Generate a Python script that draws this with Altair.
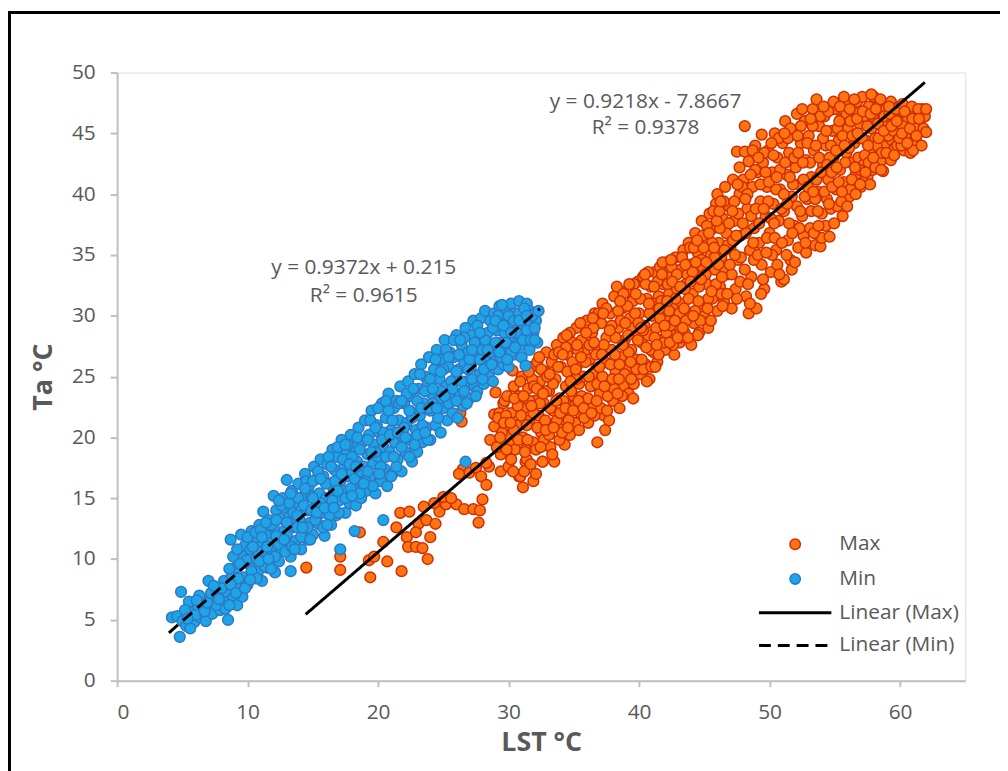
import altair as alt
import pandas as pd

# ---------------- data ----------------
SERIES = ["Max", "Min"]
FIT_NAMES = ["Linear (Max)", "Linear (Min)"]

MAX_POINTS = [
    (14.5, 9.3), (17.1, 9.1), (17.1, 10.2), (18.6, 12.2), (19.4, 8.5), (19.3, 9.9), (19.7, 10.2),
    (20.4, 11.4), (20.7, 9.8), (21.8, 9.0), (21.4, 12.6), (21.7, 13.8), (22.4, 13.9), (22.2, 11.8),
    (22.3, 11.0), (22.9, 11.0), (23.4, 10.9), (23.8, 10.0), (23.1, 12.9), (23.7, 13.2), (24.0, 11.8),
    (24.4, 12.9), (24.7, 13.9), (25.2, 14.5), (25.0, 15.1), (26.0, 14.5), (26.6, 14.1), (27.3, 14.1),
    (27.8, 14.0), (27.7, 13.0), (26.5, 17.4), (27.0, 17.1), (27.5, 17.5), (27.9, 16.8), (28.5, 17.6),
    (28.3, 16.1), (28.0, 14.9), (28.9, 20.9), (28.9, 21.9), (29.0, 23.7), (26.4, 21.3), (26.3, 22.0),
    (22.9, 12.2), (23.5, 14.3), (24.3, 14.6), (25.6, 15.0), (26.2, 17.0), (28.3, 17.9), (29.4, 17.2),
    (30.1, 18.7), (31.3, 18.0), (32.6, 18.0), (30.8, 16.8), (31.9, 16.4), (31.1, 15.9), (30.3, 19.4),
    (31.9, 19.5), (29.6, 22.8), (29.3, 22.0), (30.3, 25.5),
    (28.6, 19.8), (29.2, 21.6), (29.4, 18.6), (29.7, 23.0), (29.9, 20.2), (30.0, 17.6), (30.2, 22.0),
    (30.4, 24.2), (30.5, 19.0), (30.6, 21.0), (30.8, 23.4), (30.9, 16.8), (31.0, 25.0), (31.1, 20.0),
    (31.2, 22.4), (31.4, 18.2), (31.5, 24.0), (31.6, 21.4), (31.8, 25.8), (31.9, 19.6), (32.0, 23.0),
    (32.1, 17.0), (32.2, 26.2), (32.3, 21.8), (32.4, 24.6), (32.5, 20.4), (32.6, 18.0), (32.7, 22.8),
    (32.8, 25.4), (32.9, 27.0), (33.0, 21.0), (33.1, 23.8), (33.2, 19.2), (33.3, 26.2), (33.4, 22.2),
    (33.5, 18.0), (33.6, 24.8), (33.7, 27.6), (33.8, 20.8), (33.9, 23.2), (34.0, 25.8), (34.1, 21.8),
    (34.2, 28.2), (34.3, 19.4), (34.4, 24.2), (34.5, 26.8), (34.6, 22.6), (34.7, 20.2), (34.8, 25.2),
    (34.9, 27.8), (35.0, 23.4), (35.1, 21.2), (35.2, 29.0), (35.3, 26.0), (35.4, 24.4), (35.5, 22.0),
    (35.6, 28.0), (35.7, 25.0), (35.8, 27.0), (35.9, 23.2), (36.0, 29.6), (36.1, 21.2), (36.2, 26.4),
    (36.3, 24.2), (36.4, 28.6), (36.5, 22.6), (36.6, 30.2), (36.7, 25.6), (36.8, 19.6), (36.9, 27.4),
    (37.0, 23.6), (37.1, 29.4), (37.2, 31.0), (37.3, 21.8), (37.4, 26.2), (37.5, 28.2), (37.6, 24.6),
    (37.7, 21.4), (37.8, 30.2), (37.9, 27.2), (38.0, 23.0), (38.1, 31.6), (38.2, 25.4), (38.3, 32.4),
    (38.4, 29.0), (38.5, 22.4), (38.6, 26.6), (38.7, 30.6), (38.8, 24.2), (38.9, 28.0), (39.0, 32.0),
    (39.1, 25.6), (39.2, 23.6), (39.3, 29.8), (39.4, 27.2), (39.5, 31.2), (39.6, 24.4), (39.7, 28.6),
    (39.8, 26.4), (39.9, 32.8), (40.0, 30.2), (40.1, 25.2), (40.2, 27.8), (40.3, 33.2), (40.4, 29.2),
    (40.5, 26.0), (40.6, 31.4), (40.7, 28.4), (40.8, 24.8), (40.9, 32.4), (41.0, 30.0), (41.1, 27.0),
    (41.2, 33.6), (41.3, 29.0), (41.4, 26.2), (41.5, 31.6), (41.6, 34.0), (41.7, 28.0), (41.8, 32.6),
    (41.9, 30.6), (42.0, 27.2), (42.1, 34.4), (42.2, 29.6), (42.3, 31.8), (42.4, 33.2), (42.5, 28.4),
    (42.6, 30.8), (42.7, 26.8), (42.8, 34.8), (42.9, 32.2), (43.0, 29.2), (43.1, 27.8), (43.2, 33.8),
    (43.3, 31.0), (43.4, 35.4), (43.5, 28.6), (43.6, 32.6), (43.7, 30.2), (43.8, 36.0), (43.9, 34.2),
    (44.0, 27.6), (44.1, 31.8), (44.2, 29.4), (44.3, 36.8), (44.4, 33.2), (44.5, 35.2), (44.6, 28.6),
    (44.7, 31.0), (44.8, 37.8), (44.9, 34.0), (45.0, 30.0), (45.1, 36.4), (45.2, 32.6), (45.3, 29.0),
    (45.4, 38.4), (45.5, 35.0), (45.6, 31.4), (45.7, 37.2), (45.8, 33.8), (45.9, 39.2), (46.0, 30.4),
    (46.0, 40.0), (46.1, 36.0), (46.2, 32.4), (46.3, 34.8), (46.4, 38.0), (46.5, 31.2), (46.6, 40.6),
    (46.7, 36.8), (46.8, 33.4), (46.9, 39.0), (47.0, 35.6), (47.1, 30.6), (47.2, 41.2), (47.3, 37.8),
    (47.4, 32.2), (47.5, 43.5), (47.6, 34.6), (47.7, 40.0), (47.8, 36.6), (48.0, 41.2), (48.1, 45.6),
    (48.1, 43.5), (48.2, 31.6), (48.3, 38.8), (48.4, 30.2), (48.4, 42.7), (48.5, 35.4), (48.6, 33.2),
    (48.7, 40.6), (48.8, 37.2), (48.9, 44.0), (49.0, 30.6), (49.1, 41.8), (49.2, 36.0), (49.3, 39.4),
    (49.4, 44.9), (49.4, 34.2), (49.5, 42.6), (49.6, 32.2), (49.7, 38.2), (49.8, 40.6), (49.9, 43.6),
    (50.0, 36.8), (50.1, 33.6), (50.2, 41.8), (50.3, 39.2), (50.4, 45.0), (50.5, 35.4), (50.6, 43.0),
    (50.7, 37.8), (50.8, 40.4), (50.9, 32.8), (51.0, 44.2), (51.1, 33.0), (51.1, 38.6), (51.2, 46.0),
    (51.3, 41.6), (51.4, 36.2), (51.5, 43.4), (51.6, 34.6), (51.7, 39.8), (51.8, 45.2), (51.9, 37.4),
    (52.0, 42.2), (52.1, 46.6), (52.2, 35.6), (52.3, 40.8), (52.4, 44.2), (52.5, 38.2), (52.6, 36.6),
    (52.7, 46.0), (52.8, 42.8), (52.9, 39.6), (53.0, 44.8), (53.1, 37.2), (53.2, 41.4), (53.3, 47.0),
    (53.4, 43.6), (53.5, 35.8), (53.6, 47.8), (53.7, 40.2), (53.8, 45.6), (53.9, 35.7), (54.0, 38.4),
    (54.0, 36.4), (54.1, 42.4), (54.2, 46.4), (54.3, 44.0), (54.4, 39.6), (54.5, 41.2), (54.6, 36.5),
    (54.7, 38.8), (54.8, 45.2), (54.9, 43.0), (55.0, 47.0), (55.1, 40.4), (55.2, 39.0), (55.3, 44.4),
    (55.4, 42.0), (55.5, 46.2), (55.6, 38.2), (55.7, 41.0), (55.8, 47.4), (55.9, 43.4), (56.0, 45.4),
    (56.1, 39.8), (56.2, 40.4), (56.3, 42.6), (56.4, 46.8), (56.5, 44.2), (56.6, 41.6), (56.7, 47.6),
    (56.8, 43.0), (56.9, 45.8), (57.0, 40.6), (57.1, 48.0), (57.2, 42.4), (57.3, 46.4), (57.4, 44.4),
    (57.5, 41.4), (57.6, 47.2), (57.7, 43.6), (57.8, 45.4), (57.9, 42.0), (58.0, 48.0), (58.1, 44.6),
    (58.2, 46.6), (58.3, 43.0), (58.4, 47.4), (58.5, 42.7), (58.6, 45.6), (58.7, 41.9), (58.8, 44.0),
    (58.9, 47.0), (59.0, 46.0), (59.1, 43.4), (59.2, 45.0), (59.3, 47.6), (59.4, 44.4), (59.5, 46.6),
    (59.6, 43.8), (59.8, 45.6), (59.9, 47.2), (60.0, 44.6), (60.1, 46.2), (60.3, 43.6), (60.4, 45.2),
    (60.5, 47.0), (60.7, 44.2), (60.8, 46.0), (61.0, 45.0), (61.1, 46.6), (61.3, 44.2), (61.5, 45.1),
    (61.6, 46.2), (61.7, 47.0),
]

# second pass over the same cloud: dots lying in between the ones above
MAX_POINTS_FILL = [
    (29.1, 19.2), (29.5, 20.4), (29.8, 21.8), (29.9, 23.4), (30.2, 18.2), (30.4, 20.6), (30.7, 22.6),
    (30.9, 24.6), (31.2, 17.2), (31.3, 19.0), (31.4, 21.0), (31.6, 23.0), (31.8, 24.8), (31.7, 17.8),
    (31.9, 22.0), (32.1, 19.0), (32.2, 20.8), (32.4, 22.8), (32.5, 25.6), (32.7, 19.8), (32.9, 23.8),
    (32.8, 21.4), (33.1, 20.2), (33.2, 22.4), (33.4, 24.4), (33.5, 26.8), (33.7, 21.4), (33.8, 25.8),
    (33.9, 19.8), (34.1, 20.4), (34.2, 23.0), (34.4, 27.4), (34.5, 25.4), (34.6, 21.4), (34.8, 23.8),
    (34.9, 26.2), (34.7, 28.6), (35.1, 22.6), (35.2, 24.8), (35.3, 27.2), (35.5, 29.4), (35.6, 23.4),
    (35.8, 21.6), (35.9, 26.2), (35.4, 20.6), (36.1, 23.2), (36.2, 27.6), (36.4, 25.2), (36.5, 29.0),
    (36.6, 21.8), (36.8, 24.4), (36.9, 30.2), (36.7, 26.8), (37.1, 22.4), (37.2, 25.0), (37.3, 27.6),
    (37.5, 30.6), (37.6, 23.4), (37.8, 26.0), (37.9, 29.2), (37.4, 20.6), (38.1, 24.0), (38.2, 28.2),
    (38.4, 30.4), (38.5, 26.0), (38.7, 23.4), (38.8, 31.8), (38.9, 25.2), (38.6, 29.6), (39.1, 30.8),
    (39.2, 27.0), (39.4, 24.8), (39.5, 29.0), (39.6, 32.6), (39.8, 25.6), (39.9, 28.0), (39.7, 30.2),
    (40.1, 31.4), (40.2, 26.4), (40.3, 28.8), (40.5, 32.6), (40.6, 24.6), (40.8, 30.2), (40.9, 27.2),
    (40.7, 33.6), (41.1, 31.0), (41.2, 28.2), (41.4, 32.8), (41.5, 26.8), (41.6, 29.8), (41.8, 34.4),
    (41.9, 27.8), (41.7, 31.2), (42.1, 28.6), (42.2, 32.6), (42.3, 30.4), (42.5, 34.0), (42.6, 27.6),
    (42.8, 31.4), (42.9, 33.4), (42.4, 29.2), (43.1, 30.2), (43.2, 28.2), (43.3, 34.8), (43.5, 32.2),
    (43.6, 29.6), (43.8, 31.4), (43.9, 35.6), (43.7, 33.4), (44.1, 33.6), (44.2, 35.6), (44.3, 30.4),
    (44.5, 28.4), (44.6, 32.4), (44.8, 34.6), (44.9, 36.6), (44.7, 29.6), (45.1, 33.4), (45.2, 37.4),
    (45.3, 31.4), (45.5, 29.6), (45.6, 36.0), (45.8, 34.8), (45.9, 32.6), (45.7, 38.6), (46.1, 34.2),
    (46.2, 37.2), (46.3, 31.8), (46.5, 39.4), (46.6, 33.6), (46.8, 35.8), (46.9, 37.6), (46.4, 30.8),
    (47.1, 33.4), (47.2, 36.2), (47.3, 39.4), (47.5, 31.4), (47.6, 38.4), (47.8, 34.8), (47.9, 40.6),
    (47.7, 42.2), (48.1, 33.8), (48.2, 36.8), (48.3, 40.0), (48.5, 31.0), (48.6, 38.2), (48.8, 34.6),
    (48.9, 42.0), (48.7, 43.6), (49.1, 35.0), (49.2, 37.6), (49.3, 40.8), (49.5, 33.0), (49.6, 43.4),
    (49.8, 36.4), (49.9, 39.4), (49.7, 41.8), (50.1, 38.0), (50.2, 35.0), (50.3, 43.2), (50.5, 40.4),
    (50.6, 34.2), (50.8, 42.0), (50.9, 38.8), (50.7, 44.6), (50.4, 36.4), (51.1, 40.0), (51.2, 42.6),
    (51.3, 35.0), (51.5, 37.6), (51.6, 45.4), (51.8, 40.8), (51.9, 43.0), (51.7, 33.8), (51.4, 44.6),
    (52.1, 39.0), (52.2, 43.4), (52.3, 37.2), (52.4, 45.6), (52.6, 41.2), (52.8, 35.2), (52.9, 44.2),
    (52.7, 39.8), (52.5, 47.0), (53.1, 42.6), (53.2, 38.6), (53.3, 45.6), (53.4, 36.8), (53.6, 41.2),
    (53.8, 43.0), (53.9, 46.4), (53.7, 38.6), (53.5, 39.6), (54.1, 44.6), (54.2, 40.2), (54.3, 37.4),
    (54.5, 46.8), (54.6, 43.0), (54.8, 40.6), (54.9, 47.6), (54.7, 44.0), (54.4, 42.4), (55.1, 43.6),
    (55.2, 45.4), (55.3, 41.0), (55.5, 39.4), (55.6, 44.8), (55.8, 42.6), (55.9, 46.6), (55.7, 48.0),
    (55.4, 47.2), (56.1, 43.8), (56.2, 46.0), (56.3, 41.2), (56.5, 47.8), (56.6, 40.0), (56.8, 44.6),
    (56.9, 42.0), (56.7, 46.2), (57.1, 44.6), (57.2, 41.0), (57.3, 43.2), (57.5, 45.6), (57.6, 42.6),
    (57.8, 48.2), (57.9, 46.4), (57.7, 40.8), (58.1, 42.2), (58.2, 44.0), (58.3, 45.8), (58.5, 47.8),
    (58.6, 43.4), (58.8, 46.4), (58.9, 44.8), (59.1, 44.8), (59.2, 46.6), (59.3, 42.8), (59.5, 45.2),
    (59.7, 47.0), (59.8, 44.0), (59.9, 46.0), (60.1, 44.0), (60.2, 47.4), (60.4, 44.8), (60.6, 46.2),
    (60.8, 43.4), (60.9, 47.2), (60.2, 45.6), (61.2, 45.6), (61.4, 47.0), (61.8, 45.4), (61.9, 46.4),
    (61.0, 43.6), (62.0, 47.0), (62.0, 45.1),
]

# third pass: the remaining dots that close the white gaps of the cloud
MAX_POINTS_FILL2 = [
    (29.35, 20.0), (29.65, 21.2), (29.85, 19.0), (30.15, 21.2), (30.45, 23.2), (30.75, 19.8),
    (30.95, 21.8), (30.35, 17.2), (31.15, 23.4), (31.45, 19.8), (31.75, 22.6), (31.95, 24.2),
    (31.55, 25.4), (31.25, 18.8), (32.15, 24.0), (32.45, 19.2), (32.65, 23.6), (32.85, 20.6),
    (32.35, 26.6), (32.95, 25.0), (33.15, 25.2), (33.45, 20.8), (33.65, 23.0), (33.85, 27.0),
    (33.35, 18.6), (33.95, 22.0), (34.15, 26.8), (34.35, 22.4), (34.55, 20.8), (34.75, 24.6),
    (34.95, 22.2), (34.45, 28.4), (35.15, 25.6), (35.35, 23.0), (35.55, 26.6), (35.75, 22.4),
    (35.95, 28.6), (35.25, 27.6), (36.15, 25.0), (36.35, 22.0), (36.55, 27.8), (36.75, 23.0),
    (36.95, 25.8), (36.45, 29.8), (37.15, 26.8), (37.35, 24.2), (37.55, 22.2), (37.75, 28.8),
    (37.95, 24.8), (37.25, 30.2), (38.15, 26.8), (38.35, 23.6), (38.55, 31.2), (38.75, 27.6),
    (38.95, 29.4), (38.45, 24.8), (39.15, 28.4), (39.35, 26.2), (39.55, 23.2), (39.75, 31.8),
    (39.95, 29.4), (39.25, 32.6), (40.15, 29.0), (40.35, 25.6), (40.55, 27.4), (40.75, 31.0),
    (40.95, 25.8), (40.45, 33.4), (41.15, 32.4), (41.35, 27.6), (41.55, 30.6), (41.75, 33.4),
    (41.95, 29.2), (41.25, 25.8), (42.15, 31.2), (42.35, 27.8), (42.55, 32.8), (42.75, 29.6),
    (42.95, 28.2), (42.45, 34.6), (43.15, 32.4), (43.35, 29.0), (43.55, 34.2), (43.75, 28.2),
    (43.95, 32.8), (43.45, 30.6), (44.15, 30.0), (44.35, 34.4), (44.55, 31.2), (44.75, 33.0),
    (44.95, 35.6), (44.45, 36.2), (45.15, 34.4), (45.35, 36.8), (45.55, 32.0), (45.75, 35.6),
    (45.95, 37.8), (45.25, 30.6), (46.15, 38.6), (46.35, 33.2), (46.55, 35.4), (46.75, 31.8),
    (46.95, 34.2), (46.25, 39.4), (47.15, 38.6), (47.35, 35.0), (47.55, 40.8), (47.75, 32.8),
    (47.95, 37.6), (47.45, 36.6), (48.15, 39.6), (48.35, 32.6), (48.55, 41.6), (48.75, 36.0),
    (48.95, 38.8), (49.15, 43.0), (49.35, 31.8), (49.55, 38.8), (49.75, 35.2), (49.95, 41.0),
    (50.15, 44.2), (50.35, 37.6), (50.55, 41.4), (50.75, 33.4), (50.95, 36.0), (51.15, 45.0),
    (51.35, 39.2), (51.55, 41.4), (51.75, 36.8), (51.95, 34.4), (52.15, 44.8), (52.35, 38.6),
    (52.55, 42.6), (52.75, 36.0), (52.95, 40.6), (53.15, 46.2), (53.35, 40.2), (53.55, 44.0),
    (53.75, 37.4), (53.95, 41.8), (54.15, 47.2), (54.35, 45.2), (54.55, 39.2), (54.75, 41.8),
    (54.95, 37.6), (55.15, 42.2), (55.35, 46.0), (55.55, 40.2), (55.75, 44.0), (55.95, 39.0),
    (56.15, 47.0), (56.35, 44.8), (56.55, 42.2), (56.75, 45.0), (56.95, 40.8), (57.15, 46.8),
    (57.35, 41.8), (57.55, 44.0), (57.75, 46.6), (57.95, 43.0), (58.15, 47.0), (58.35, 44.6),
    (58.55, 42.0), (58.75, 45.2), (58.95, 43.4), (59.15, 47.2), (59.35, 45.6), (59.55, 43.2),
    (59.75, 46.0), (59.95, 44.6), (60.15, 45.0), (60.35, 46.8), (60.55, 44.2), (60.75, 45.4),
    (60.95, 46.2), (61.25, 44.8), (61.45, 46.2), (61.65, 44.0),
]

MIN_POINTS = [
    (4.2, 5.2), (4.6, 5.3), (4.8, 3.6), (5.0, 4.9), (5.3, 4.5), (4.9, 7.3), (5.5, 6.5), (5.7, 5.6),
    (5.9, 4.8), (6.2, 6.1), (6.4, 5.2), (6.6, 6.6), (6.8, 4.9), (7.0, 8.2), (7.1, 6.0), (7.3, 5.5),
    (7.5, 6.8), (7.7, 7.4), (7.9, 5.8), (8.1, 6.6), (8.2, 8.2), (8.5, 5.0), (8.4, 7.3), (8.7, 11.6),
    (8.8, 8.6), (8.9, 6.8), (9.2, 6.2), (9.1, 9.3), (9.4, 7.6), (9.5, 12.0), (9.6, 10.4), (9.7, 8.5),
    (9.8, 11.1), (10.0, 7.9), (10.1, 9.6), (10.2, 10.8), (10.3, 12.3), (10.4, 8.8), (10.5, 11.5),
    (10.6, 10.0), (10.8, 9.0), (10.9, 12.8), (11.0, 11.0), (11.1, 8.2), (11.2, 13.9), (11.3, 10.2),
    (11.4, 12.0), (11.5, 9.3), (11.6, 13.2), (11.7, 11.3), (11.9, 10.4), (12.0, 15.2), (12.0, 12.6),
    (12.1, 8.9), (12.2, 14.0), (12.3, 11.6), (12.4, 9.8), (12.5, 13.3), (12.6, 10.8), (12.7, 15.0),
    (12.8, 12.3), (12.9, 14.2), (13.3, 9.0), (13.0, 16.5), (13.1, 11.2), (13.2, 13.5), (13.3, 10.2),
    (13.4, 15.6), (13.5, 12.6), (13.6, 14.6), (13.7, 11.5), (13.9, 16.2), (14.0, 13.2), (14.1, 10.8),
    (14.2, 15.1), (14.3, 12.2), (14.4, 17.0), (14.5, 14.0), (14.6, 11.6), (14.7, 16.0), (14.8, 13.0),
    (14.9, 15.2), (15.0, 12.0), (15.1, 17.6), (15.2, 14.3), (15.3, 16.6), (15.4, 12.9), (15.5, 15.4),
    (15.6, 18.2), (15.7, 13.8), (15.8, 16.8), (15.9, 11.9), (16.0, 15.0), (16.1, 17.8), (16.2, 14.0),
    (16.3, 16.2), (16.4, 12.8), (16.5, 19.0), (16.6, 15.6), (16.7, 17.3), (16.8, 13.6), (16.9, 18.4),
    (17.0, 14.8), (17.1, 16.4), (17.1, 10.8), (17.2, 19.8), (17.3, 15.6), (17.4, 17.6), (17.5, 13.8),
    (17.6, 18.8), (17.7, 16.8), (17.8, 14.6), (17.9, 20.2), (18.2, 12.3), (18.0, 17.2), (18.1, 15.8),
    (18.2, 19.2), (18.3, 14.4), (18.4, 18.0), (18.5, 20.8), (18.6, 16.6), (18.7, 15.0), (18.8, 19.6),
    (18.9, 17.6), (19.0, 21.4), (19.1, 15.6), (19.2, 18.6), (19.3, 20.2), (19.4, 16.8), (19.5, 22.2),
    (19.6, 17.8), (19.7, 19.4), (19.8, 15.4), (19.9, 21.0), (20.0, 18.4), (20.1, 20.4), (20.2, 16.4),
    (20.4, 13.2), (20.3, 22.8), (20.4, 19.2), (20.5, 17.4), (20.6, 21.6), (20.7, 16.0), (20.8, 23.6),
    (20.9, 18.8), (21.0, 20.6), (21.1, 17.0), (21.2, 22.4), (21.3, 19.6), (21.4, 23.0), (21.5, 18.2),
    (21.6, 21.4), (21.7, 24.2), (21.8, 17.2), (21.9, 20.0), (22.0, 22.8), (22.1, 18.8), (22.2, 21.2),
    (22.3, 24.6), (22.4, 19.8), (22.5, 23.4), (22.6, 18.0), (22.7, 22.0), (22.8, 25.2), (22.9, 20.6),
    (23.0, 18.8), (23.1, 24.0), (23.2, 21.8), (23.3, 26.0), (23.4, 19.6), (23.5, 22.8), (23.6, 25.0),
    (23.7, 20.8), (23.8, 24.4), (23.9, 26.6), (24.0, 19.8), (24.0, 22.2), (24.1, 23.6), (24.3, 25.6),
    (24.4, 21.0), (24.5, 27.2), (24.6, 23.0), (24.7, 24.8), (24.8, 20.4), (24.9, 26.4), (25.0, 22.4),
    (25.1, 28.0), (25.2, 24.2), (25.3, 21.4), (25.4, 25.8), (25.5, 27.0), (25.6, 23.2), (25.7, 22.0),
    (25.8, 26.6), (25.9, 24.8), (26.0, 28.4), (26.1, 21.6), (26.2, 25.6), (26.3, 23.6), (26.4, 27.6),
    (26.5, 22.6), (26.6, 26.2), (26.7, 18.0), (26.7, 29.0), (26.8, 24.6), (26.9, 27.0), (27.0, 23.2),
    (27.1, 25.8), (27.2, 28.4), (27.3, 29.6), (27.4, 24.2), (27.5, 26.8), (27.6, 23.8), (27.7, 28.0),
    (27.8, 25.2), (27.9, 29.8), (28.0, 27.2), (28.1, 24.4), (28.2, 30.4), (28.3, 26.2), (28.4, 28.6),
    (28.5, 25.0), (28.6, 29.6), (28.7, 27.6), (28.8, 24.6), (28.9, 30.2), (29.0, 26.6), (29.1, 28.8),
    (29.2, 25.6), (29.3, 30.8), (29.4, 27.8), (29.5, 29.8), (29.6, 26.0), (29.7, 28.6), (29.8, 30.6),
    (29.9, 27.2), (30.0, 25.8), (30.1, 29.4), (30.2, 31.0), (30.3, 28.2), (30.4, 26.8), (30.5, 30.2),
    (30.6, 27.6), (30.7, 29.0), (30.8, 31.2), (30.9, 28.4), (31.0, 26.6), (31.1, 30.0), (31.2, 29.2),
    (31.3, 25.9), (31.4, 31.0), (31.5, 28.0), (31.6, 30.4), (31.7, 29.4), (31.9, 28.6), (32.0, 30.2),
    (32.1, 29.6), (32.2, 27.8),
]

MIN_POINTS_FILL = [
    (5.2, 5.8), (5.6, 4.3), (6.0, 5.4), (6.3, 7.0), (6.7, 5.7), (7.2, 7.2), (7.6, 6.2), (8.0, 7.6),
    (8.3, 5.9), (8.6, 9.2), (8.9, 10.2), (9.2, 10.8), (9.3, 8.4), (9.6, 6.9), (9.9, 9.9), (10.0, 11.8),
    (10.3, 9.0), (10.6, 12.2), (10.7, 8.4), (10.8, 10.6), (11.0, 12.4), (11.3, 9.4), (11.5, 11.0),
    (11.8, 12.8), (11.8, 9.2), (12.1, 10.2), (12.2, 13.2), (12.4, 11.2), (12.6, 14.4), (12.9, 10.6),
    (13.0, 12.0), (13.2, 14.6), (13.4, 11.0), (13.5, 13.8), (13.8, 12.6), (13.9, 15.0), (14.1, 11.8),
    (14.3, 14.4), (14.5, 16.4), (14.6, 12.6), (14.9, 14.0), (15.0, 16.4), (15.2, 13.2), (15.4, 17.2),
    (15.6, 14.6), (15.8, 12.6), (16.0, 16.2), (16.2, 18.4), (16.3, 13.6), (16.5, 14.8), (16.7, 16.4),
    (16.9, 19.2), (17.0, 13.8), (17.3, 18.2), (17.5, 15.0), (17.7, 19.4), (17.9, 15.8), (18.0, 18.4),
    (18.2, 16.6), (18.4, 20.0), (18.6, 15.4), (18.7, 17.2), (19.0, 16.4), (19.2, 19.8), (19.4, 21.4),
    (19.6, 16.0), (19.8, 18.8), (20.0, 22.4), (20.2, 17.6), (20.4, 20.4), (20.6, 18.4), (20.8, 22.2),
    (21.0, 16.8), (21.1, 21.4), (21.4, 17.6), (21.6, 22.8), (21.8, 19.2), (22.0, 20.8), (22.2, 23.6),
    (22.4, 18.4), (22.6, 21.6), (22.8, 19.4), (23.0, 23.0), (23.2, 25.2), (23.4, 21.0), (23.6, 23.8),
    (23.8, 19.8), (24.0, 24.8), (24.2, 22.8), (24.4, 26.4), (24.6, 21.6), (24.8, 23.8), (25.0, 25.6),
    (25.2, 27.2), (25.4, 22.8), (25.6, 24.6), (25.8, 28.0), (26.0, 23.0), (26.2, 26.8), (26.4, 24.6),
    (26.6, 28.2), (26.8, 22.8), (27.0, 26.4), (27.2, 24.8), (27.4, 27.8), (27.6, 29.2), (27.8, 26.4),
    (28.0, 24.8), (28.2, 28.0), (28.4, 25.8), (28.6, 27.0), (28.8, 29.0), (29.0, 27.8), (29.2, 30.0),
    (29.4, 26.6), (29.5, 30.9), (29.8, 27.8), (30.0, 30.0), (30.2, 27.0), (30.4, 29.6), (30.6, 28.6),
    (30.8, 30.2), (31.0, 27.6), (31.2, 30.6), (31.4, 28.8), (31.6, 27.2), (31.8, 30.0), (32.0, 29.0),
    (32.3, 30.4),
    (5.4, 5.1), (6.1, 6.6), (6.9, 6.4), (7.4, 7.8), (7.8, 6.7), (8.6, 6.2), (8.7, 7.9), (9.1, 7.2),
    (9.4, 9.6), (9.8, 7.6), (10.2, 8.3), (10.4, 11.0), (10.9, 9.8), (11.1, 11.8), (11.4, 13.0),
    (11.6, 10.0), (12.2, 11.9), (12.4, 14.8), (12.8, 11.6), (13.0, 13.0), (13.3, 15.4), (13.6, 10.8),
    (13.8, 13.6), (14.2, 12.6), (14.4, 15.8), (14.8, 11.6), (15.0, 15.0), (15.3, 13.8), (15.6, 16.6),
    (15.9, 14.2), (16.1, 12.8), (16.4, 17.6), (16.6, 14.2), (16.9, 15.6), (17.2, 17.0), (17.5, 19.4),
    (17.8, 17.8), (18.0, 15.2), (18.3, 17.6), (18.6, 19.0), (18.9, 16.2), (19.2, 17.2), (19.5, 18.8),
    (19.8, 20.8), (20.1, 17.0), (20.3, 19.8), (20.6, 23.0), (20.9, 20.2), (21.2, 18.4), (21.5, 20.4),
    (21.8, 23.0), (22.1, 20.0), (22.4, 22.2), (22.7, 24.0), (23.0, 20.2), (23.3, 22.4), (23.6, 20.4),
    (23.9, 22.4), (24.2, 24.0), (24.5, 22.4), (24.8, 25.4), (25.1, 23.4), (25.4, 26.6), (25.7, 24.0),
    (26.0, 25.4), (26.3, 28.0), (26.6, 23.8), (26.9, 25.6), (27.2, 27.2), (27.5, 23.4), (27.8, 28.6),
    (28.1, 25.6), (28.4, 27.2), (28.7, 26.0), (29.0, 29.6), (29.3, 27.0), (29.6, 29.2), (29.9, 26.4),
    (30.2, 28.6), (30.5, 27.4), (30.8, 29.6), (31.1, 28.0), (31.4, 30.0), (31.7, 28.0), (32.0, 28.0),
]

# trendlines as printed on the chart: slope, intercept, x-range of the drawn line
FIT_SLOPE = [0.9218, 0.9372]
FIT_INTERCEPT = [-7.8667, 0.215]
FIT_X_START = [14.45, 3.97]
FIT_X_END = [61.9, 32.4]

EQUATION_TEXT = ["y = 0.9218x - 7.8667", "R² = 0.9378", "y = 0.9372x + 0.215", "R² = 0.9615"]
EQUATION_X = [40.5, 40.5, 18.9, 18.9]
EQUATION_Y = [47.6, 45.4, 33.9, 31.6]

X_TICKS = [0, 10, 20, 30, 40, 50, 60]
Y_TICKS = [0, 5, 10, 15, 20, 25, 30, 35, 40, 45, 50]

# ---------------- tables ----------------
pts = pd.DataFrame(
    [{"LST": x, "Ta": y, "series": "Max"} for x, y in MAX_POINTS + MAX_POINTS_FILL + MAX_POINTS_FILL2]
    + [{"LST": x, "Ta": y, "series": "Min"} for x, y in MIN_POINTS + MIN_POINTS_FILL]
)
pts["order"] = range(len(pts))

fit_rows = []
for name, m, b, x0, x1 in zip(FIT_NAMES, FIT_SLOPE, FIT_INTERCEPT, FIT_X_START, FIT_X_END):
    fit_rows.append({"LST": x0, "Ta": m * x0 + b, "fit": name})
    fit_rows.append({"LST": x1, "Ta": m * x1 + b, "fit": name})
fits = pd.DataFrame(fit_rows)

ann = pd.DataFrame({"text": EQUATION_TEXT, "LST": EQUATION_X, "Ta": EQUATION_Y})

FONT = "Open Sans"
GREY = "#595959"
AXIS_GREY = "#bfbfbf"

x_scale = alt.Scale(domain=[0, 65], nice=False, zero=True)
y_scale = alt.Scale(domain=[0, 50], nice=False, zero=True)

x_axis = alt.Axis(values=X_TICKS, title="LST °C", grid=False, domainColor=AXIS_GREY, domainWidth=2,
                  tickColor=AXIS_GREY, tickWidth=2, tickSize=6, labelPadding=15,
                  labelFont=FONT, labelFontSize=21, labelColor=GREY,
                  titleFont=FONT, titleFontSize=27, titleFontWeight="bold", titleColor=GREY,
                  titlePadding=7)
y_axis = alt.Axis(values=Y_TICKS, title="Ta °C", grid=False, domainColor=AXIS_GREY, domainWidth=2,
                  tickColor=AXIS_GREY, tickWidth=2, tickSize=7, labelPadding=15,
                  labelFont=FONT, labelFontSize=21, labelColor=GREY,
                  titleFont=FONT, titleFontSize=27, titleFontWeight="bold", titleColor=GREY,
                  titlePadding=14)

pt_legend = alt.Legend(title=None, orient="none", legendX=673, legendY=465, symbolType="circle",
                       symbolSize=110, symbolStrokeWidth=1.5, symbolOpacity=1,
                       labelFont=FONT, labelFontSize=21, labelColor=GREY, labelOffset=34,
                       rowPadding=13, padding=0)

points = alt.Chart(pts).mark_circle(size=118, opacity=1, strokeWidth=1.5).encode(
    x=alt.X("LST:Q", scale=x_scale, axis=x_axis),
    y=alt.Y("Ta:Q", scale=y_scale, axis=y_axis),
    fill=alt.Fill("series:N", scale=alt.Scale(domain=SERIES, range=["#ff7412", "#1ea5e8"]), legend=pt_legend),
    stroke=alt.Stroke("series:N", scale=alt.Scale(domain=SERIES, range=["#cf2e00", "#2f78c4"]), legend=pt_legend),
    order=alt.Order("order:Q"),
)

line_legend = alt.Legend(title=None, orient="none", legendX=672, legendY=533,
                         symbolType="M-3.65,0H3.65", symbolSize=400, symbolStrokeWidth=3,
                         symbolStrokeColor="black", symbolFillColor="transparent",
                         labelFont=FONT, labelFontSize=21, labelColor=GREY, labelOffset=33,
                         rowPadding=11, padding=0)

lines = alt.Chart(fits).mark_line(strokeWidth=3, color="black").encode(
    x=alt.X("LST:Q", scale=x_scale),
    y=alt.Y("Ta:Q", scale=y_scale),
    detail="fit:N",
    strokeDash=alt.StrokeDash("fit:N", scale=alt.Scale(domain=FIT_NAMES, range=[[1, 0], [12, 7]]),
                              legend=line_legend),
)

texts = alt.Chart(ann).mark_text(font=FONT, fontSize=21, color=GREY, align="center", baseline="middle").encode(
    x=alt.X("LST:Q", scale=x_scale),
    y=alt.Y("Ta:Q", scale=y_scale),
    text="text:N",
)

frame = alt.Data(values=[{}])
left_border = alt.Chart(frame).mark_rule(color="black", strokeWidth=3).encode(
    x=alt.value(-108.5), y=alt.value(-62), y2=alt.value(720))
top_border = alt.Chart(frame).mark_rule(color="black", strokeWidth=3).encode(
    y=alt.value(-60.5), x=alt.value(-110), x2=alt.value(900))

chart = alt.layer(points, lines, texts, left_border, top_border).resolve_scale(
    fill="independent", stroke="independent", strokeDash="independent"
).properties(
    width=855, height=613,
    padding={"left": 110, "top": 62, "right": 35, "bottom": 88},
    autosize=alt.AutoSizeParams(type="none"),
).configure_view(stroke=None).configure(background="white")

chart.save("out.html", embed_options={"renderer": "svg", "actions": False})
